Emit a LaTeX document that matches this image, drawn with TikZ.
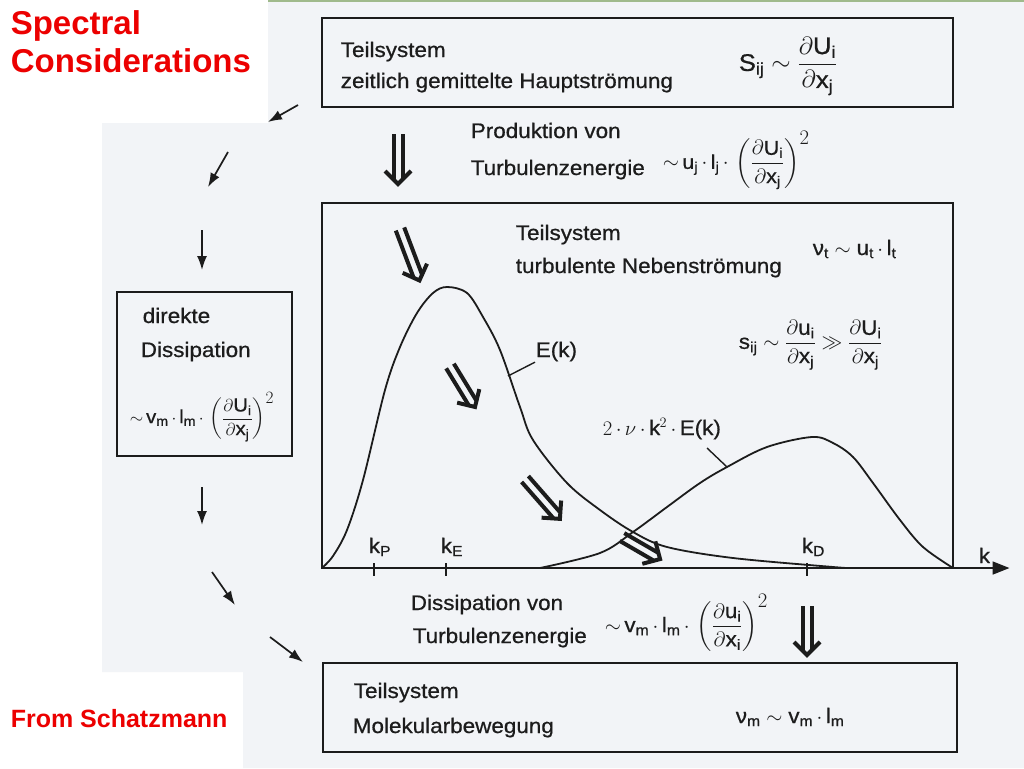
\documentclass[tikz,border=0pt]{standalone}
\usepackage{amsmath}
\usepackage{fontspec}
\setmainfont{Liberation Sans}[FakeStretch=1.07, FakeBold=0.7]
\newfontfamily\redfont{Liberation Sans}
\usepackage{tikz}
\usetikzlibrary{arrows.meta}
\definecolor{scanbg}{RGB}{242,244,247}
\definecolor{ink}{RGB}{28,28,28}
\definecolor{slidered}{RGB}{236,0,0}
\definecolor{topgreen}{RGB}{160,186,140}
\newcommand{\sx}[1]{\text{#1}}
\newcommand{\dq}[3]{\dfrac{\partial\sx{#1}_{\sx{#2}}}{\partial\sx{x}_{\sx{#3}}}}
\newcommand{\md}{\,{\cdot}\,}
\newcommand{\tl}{{\sim}\,}

\tikzset{pics/flow/.style={code={
  \draw[line width=4pt] (-4.5,0) -- (-4.5,#1-5) (4.5,0) -- (4.5,#1-5);
  \draw[line width=4pt, miter limit=4] (-13,#1-13) -- (0,#1) -- (13,#1-13);
}}}

\begin{document}
\begin{tikzpicture}[x=1pt, y=-1pt, color=ink, line width=1.6pt,
  sysbox/.style={draw=ink, line width=1.8pt, inner sep=0pt},
  txt/.style={anchor=base west, inner sep=0pt, font=\fontsize{21}{25}\selectfont},
  frm/.style={anchor=west, inner sep=0pt, font=\fontsize{21}{25}\selectfont},
  redtxt/.style={anchor=base west, inner sep=0pt, text=slidered},
  pfeil/.style={-{Latex[length=14pt,width=10pt]}, line width=1.7pt},
  kurve/.style={line width=1.8pt, smooth, tension=0.55}]
\useasboundingbox (0,0) rectangle (1024,768);
\fill[white] (0,0) rectangle (1024,768);
\fill[scanbg] (268,0) -- (1024,0) -- (1024,768) -- (243,768) -- (243,672) -- (102,672) -- (102,123) -- (268,123) -- cycle;
\draw[topgreen, line width=2pt] (268,1) -- (1024,1);

% boxes
\node[sysbox, minimum width=631pt, minimum height=89pt] (haupt) at (637.5,62.5) {};
\node[sysbox, minimum width=631pt, minimum height=365pt] (neben) at (637.5,385.5) {};
\node[sysbox, minimum width=175pt, minimum height=164pt] (direkt) at (204.5,374) {};
\node[sysbox, minimum width=634pt, minimum height=89pt] (molek) at (640,707.5) {};

% texts
\node[txt] (hauptA) at (340,57) {Teilsystem};
\node[txt] (hauptB) at (340,88) {zeitlich gemittelte Hauptströmung};
\node[frm, font=\fontsize{24}{28}\selectfont] (hauptF) at (738,66) {$\sx{S}_{\sx{ij}}\sim\dq{U}{i}{j}$};
\node[txt] (prodA) at (470,138) {Produktion von};
\node[txt] (prodB) at (470,175) {Turbulenzenergie};
\node[frm, font=\fontsize{20}{24}\selectfont] (prodF) at (662,160) {$\tl\sx{u}_{\sx{j}}\md\sx{l}_{\sx{j}}\md\left(\dq{U}{i}{j}\right)^{\textstyle 2}$};
\node[txt] (nebenA) at (515,240) {Teilsystem};
\node[txt] (nebenB) at (515,273) {turbulente Nebenströmung};
\node[txt] (nebenF) at (812,255) {$\sx{ν}_{\sx{t}}\sim\sx{u}_{\sx{t}}\md\sx{l}_{\sx{t}}$};
\node[frm] (nebenG) at (738,345) {$\sx{s}_{\sx{ij}}\sim\dq{u}{i}{j}\gg\dq{U}{i}{j}$};
\node[txt] (direktA) at (142,323) {direkte};
\node[txt] (direktB) at (140,357) {Dissipation};
\node[frm, font=\fontsize{19}{23}\selectfont] (direktF) at (129,417) {$\tl\sx{v}_{\sx{m}}\md\sx{l}_{\sx{m}}\md\left(\dq{U}{i}{j}\right)^{\textstyle 2}$};
\node[txt] (dissA) at (410,610) {Dissipation von};
\node[txt] (dissB) at (412,643) {Turbulenzenergie};
\node[frm] (dissF) at (604,623) {$\tl\sx{v}_{\sx{m}}\md\sx{l}_{\sx{m}}\md\left(\dq{u}{i}{i}\right)^{\textstyle 2}$};
\node[txt] (molekA) at (353,698) {Teilsystem};
\node[txt] (molekB) at (352,733) {Molekularbewegung};
\node[txt] (molekF) at (735,723) {$\sx{ν}_{\sx{m}}\sim\sx{v}_{\sx{m}}\md\sx{l}_{\sx{m}}$};

\node[redtxt, font=\redfont\bfseries\fontsize{33}{37}\selectfont] (titelA) at (10,35) {Spectral};
\node[redtxt, font=\redfont\bfseries\fontsize{33}{37}\selectfont] (titelB) at (10,72) {Considerations};
\node[redtxt, font=\redfont\bfseries\fontsize{25}{29}\selectfont] (quelle) at (10,727) {From Schatzmann};

% spectra
\draw[kurve] plot coordinates {(322,568) (333,556) (347,530) (363,480) (385,390) (400,347) (417,313) (433,293) (447,287) (467,293) (483,317) (500,350) (520,407) (533,440) (567,483) (600,510) (633,532) (667,547) (733,558) (833,567) (850,568)};
\draw[kurve] plot coordinates {(540,568) (600,553) (633,532) (667,507) (700,483) (727,467) (767,447) (812,437) (833,443) (853,457) (873,483) (900,520) (923,547) (953,568)};
\node[txt] (Elabel) at (535,357) {E(k)};
\coordinate (ek) at (508,376);
\draw[line width=1.4pt] (ek) -- (Elabel.south west);
\node[txt] (Dlabel) at (602,435) {$2\md\nu\md\mathrm{k}^{2}\md$E(k)};
\coordinate (dk) at (727,467);
\coordinate (dl) at (707,448);
\draw[line width=1.4pt] (dk) -- (dl);

% k axis
\coordinate (k0) at (322,568);
\coordinate (kend) at (1008,568);
\draw[line width=1.8pt] (k0) -- ([xshift=-8pt]kend);
\filldraw[line width=1pt, line join=miter] (kend) -- ++(-15,-6) -- ++(0,12) -- cycle;
\node[txt] (klab) at (978,563) {k};
\foreach \kx/\ks in {374/P, 446/E, 807/D} {
  \draw (\kx,563) -- (\kx,576);
  \node[txt] (k\ks) at (\kx-6,553) {k$_{\sx{\ks}}$};
}

% energy flow
\foreach \i/\xa/\ya/\ang/\len in {1/398/134/0/50, 2/400/229/20.7/55, 3/450/366/31.4/48, 4/525/479/41.2/53, 5/622/537/59.9/44, 6/807/606/0/49} {
  \coordinate (fs\i) at (\xa,\ya);
  \pic[rotate=\ang] (flow\i) at (fs\i) {flow=\len};
}
\foreach \i/\xa/\ya/\xb/\yb in {1/298/105/268/122, 2/228/152/208/187, 3/202/230/202/270, 4/202/487/202/525, 5/212/572/235/605, 6/270/637/303/662} {
  \coordinate (ps\i) at (\xa,\ya);
  \coordinate (pe\i) at (\xb,\yb);
  \draw[pfeil] (ps\i) -- (pe\i);
}
\end{tikzpicture}
\end{document}
